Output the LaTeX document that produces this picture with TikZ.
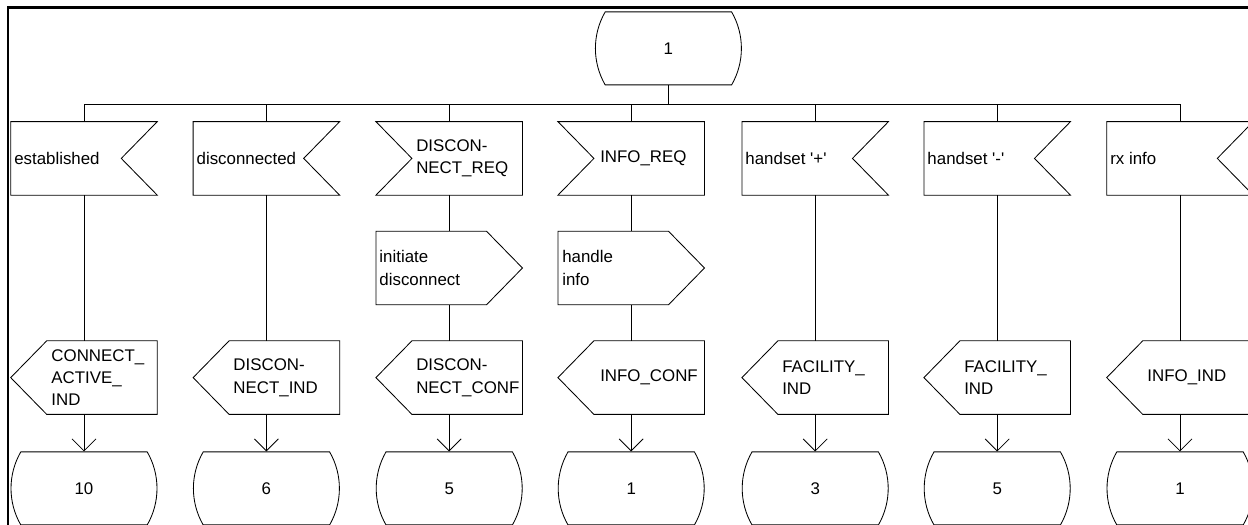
\documentclass[tikz,border=0pt]{standalone}
\usepackage{fontspec}
\setmainfont{Liberation Sans}
\usetikzlibrary{shapes.misc, arrows.meta}

\tikzset{
  sdl/.style={minimum width=3.65cm, minimum height=1.825cm, inner sep=0pt},
  sdlline/.style={line width=0.6pt},
  % input, notch on the right
  inright/.style={sdl, append after command={\pgfextra{\draw[sdlline]
    (\tikzlastnode.north west) -- (\tikzlastnode.north east)
    -- ([xshift=-0.9cm]\tikzlastnode.east) -- (\tikzlastnode.south east)
    -- (\tikzlastnode.south west) -- cycle;}}},
  % input, notch on the left
  inleft/.style={sdl, append after command={\pgfextra{\draw[sdlline]
    (\tikzlastnode.north west) -- (\tikzlastnode.north east)
    -- (\tikzlastnode.south east) -- (\tikzlastnode.south west)
    -- ([xshift=0.9cm]\tikzlastnode.west) -- cycle;}}},
  % output, point on the left
  outsig/.style={sdl, append after command={\pgfextra{\draw[sdlline]
    ([xshift=0.9cm]\tikzlastnode.north west) -- (\tikzlastnode.north east)
    -- (\tikzlastnode.south east) -- ([xshift=0.9cm]\tikzlastnode.south west)
    -- (\tikzlastnode.west) -- cycle;}}},
  % task, point on the right
  taskbox/.style={sdl, append after command={\pgfextra{\draw[sdlline]
    (\tikzlastnode.north west) -- ([xshift=-0.9cm]\tikzlastnode.north east)
    -- (\tikzlastnode.east) -- ([xshift=-0.9cm]\tikzlastnode.south east)
    -- (\tikzlastnode.south west) -- cycle;}}},
  statebox/.style={sdl, draw, sdlline, rounded rectangle, rounded rectangle arc length=60},
  txt/.style={anchor=west, align=left, inner sep=0pt},
  flow/.style={sdlline},
  flowarr/.style={flow, -{Straight Barb[length=3mm, width=6mm]}}
}

\begin{document}
\begin{tikzpicture}[font=\fontsize{12}{16}\selectfont]
    \useasboundingbox (0,0) rectangle (31.2,-13.1);
    \clip (0,0) rectangle (31.2,-13.1);
    \draw[line width=1.6pt] (0.2,-0.19) rectangle (33,-15);

    % start state
    \node[statebox] (s1) at (16.71,-1.21) {1};

    % inputs
    \node[inright] (est) at (2.1,-3.96) {};
    \node[txt] (t-est) at (0.35,-3.96) {established};
    \node[inright] (dis) at (6.66,-3.96) {};
    \node[txt] (t-dis) at (4.91,-3.96) {disconnected};
    \node[inleft] (dreq) at (11.23,-3.96) {};
    \node[txt] (t-dreq) at (10.4,-3.96) {DISCON-\\NECT\_REQ};
    \node[inleft] (ireq) at (15.78,-3.96) {};
    \node[txt] (t-ireq) at (15.0,-3.96) {INFO\_REQ};
    \node[inright] (hsp) at (20.38,-3.96) {};
    \node[txt] (t-hsp) at (18.63,-3.96) {handset \textquotesingle+\textquotesingle};
    \node[inright] (hsm) at (24.93,-3.96) {};
    \node[txt] (t-hsm) at (23.18,-3.96) {handset \textquotesingle-\textquotesingle};
    \node[inright] (rxi) at (29.5,-3.96) {};
    \node[txt] (t-rxi) at (27.75,-3.96) {rx info};

    % tasks
    \node[taskbox] (idis) at (11.23,-6.7) {};
    \node[txt] (t-idis) at (9.48,-6.7) {initiate\\disconnect};
    \node[taskbox] (hinf) at (15.78,-6.7) {};
    \node[txt] (t-hinf) at (14.05,-6.7) {handle\\info};

    % outputs
    \node[outsig] (cai) at (2.1,-9.44) {};
    \node[txt] (t-cai) at (1.28,-9.44) {CONNECT\_\\ACTIVE\_\\IND};
    \node[outsig] (dind) at (6.66,-9.44) {};
    \node[txt] (t-dind) at (5.83,-9.44) {DISCON-\\NECT\_IND};
    \node[outsig] (dconf) at (11.23,-9.44) {};
    \node[txt] (t-dconf) at (10.4,-9.44) {DISCON-\\NECT\_CONF};
    \node[outsig] (iconf) at (15.78,-9.44) {};
    \node[txt] (t-iconf) at (15.0,-9.44) {INFO\_CONF};
    \node[outsig] (fac1) at (20.38,-9.44) {};
    \node[txt] (t-fac1) at (19.55,-9.44) {FACILITY\_\\IND};
    \node[outsig] (fac2) at (24.93,-9.44) {};
    \node[txt] (t-fac2) at (24.1,-9.44) {FACILITY\_\\IND};
    \node[outsig] (iind) at (29.5,-9.44) {};
    \node[txt] (t-iind) at (28.68,-9.44) {INFO\_IND};

    % next states
    \node[statebox] (s10) at (2.1,-12.21) {10};
    \node[statebox] (s6) at (6.66,-12.21) {6};
    \node[statebox] (s5a) at (11.23,-12.21) {5};
    \node[statebox] (s1a) at (15.78,-12.21) {1};
    \node[statebox] (s3) at (20.38,-12.21) {3};
    \node[statebox] (s5b) at (24.93,-12.21) {5};
    \node[statebox] (s1b) at (29.5,-12.21) {1};

    % branches from the start state
    \draw[flow] (s1.south) -- ++(0,-0.48) -| (est.north);
    \draw[flow] (s1.south) -- ++(0,-0.48) -| (dis.north);
    \draw[flow] (s1.south) -- ++(0,-0.48) -| (dreq.north);
    \draw[flow] (s1.south) -- ++(0,-0.48) -| (ireq.north);
    \draw[flow] (s1.south) -- ++(0,-0.48) -| (hsp.north);
    \draw[flow] (s1.south) -- ++(0,-0.48) -| (hsm.north);
    \draw[flow] (s1.south) -- ++(0,-0.48) -| (rxi.north);

    \draw[flow] (est.south) -- (cai.north);
    \draw[flow] (dis.south) -- (dind.north);
    \draw[flow] (dreq.south) -- (idis.north);
    \draw[flow] (idis.south) -- (dconf.north);
    \draw[flow] (ireq.south) -- (hinf.north);
    \draw[flow] (hinf.south) -- (iconf.north);
    \draw[flow] (hsp.south) -- (fac1.north);
    \draw[flow] (hsm.south) -- (fac2.north);
    \draw[flow] (rxi.south) -- (iind.north);

    \draw[flowarr] (cai.south) -- (s10.north);
    \draw[flowarr] (dind.south) -- (s6.north);
    \draw[flowarr] (dconf.south) -- (s5a.north);
    \draw[flowarr] (iconf.south) -- (s1a.north);
    \draw[flowarr] (fac1.south) -- (s3.north);
    \draw[flowarr] (fac2.south) -- (s5b.north);
    \draw[flowarr] (iind.south) -- (s1b.north);
\end{tikzpicture}
\end{document}
